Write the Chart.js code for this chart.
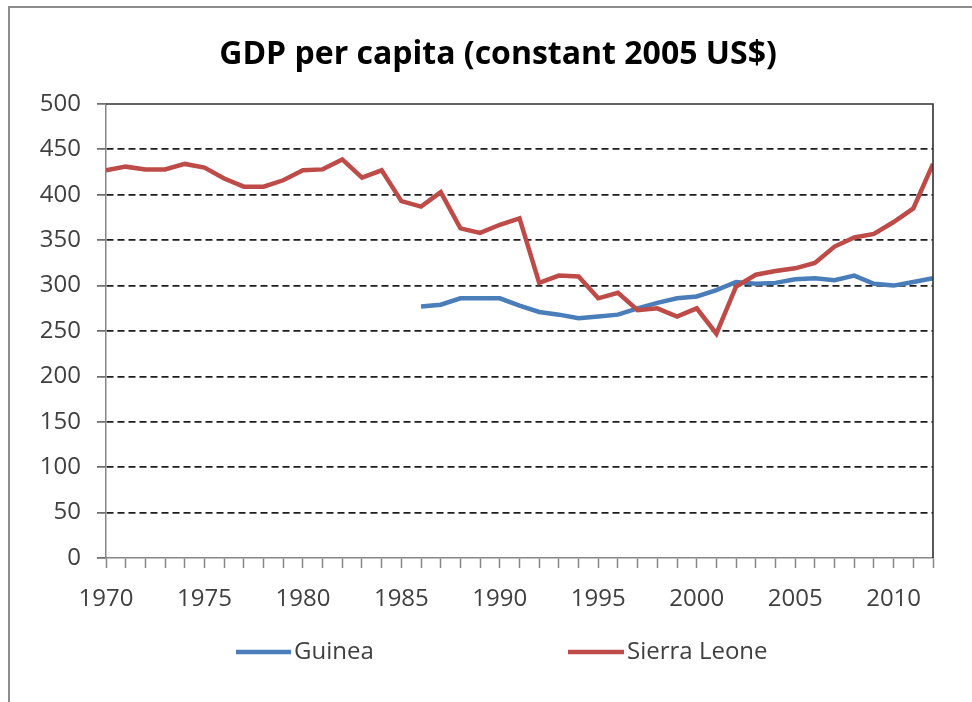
<!DOCTYPE html>
<html>
<head>
<meta charset="utf-8">
<script src="https://cdn.jsdelivr.net/npm/chart.js@4/dist/chart.umd.min.js"></script>
<style>
  body { margin: 0; background: #fff; }
  #wrap { width: 972px; height: 702px; }
</style>
</head>
<body>
<div id="wrap"><canvas id="mycanvas" width="972" height="702"></canvas></div>
<script>
// GDP per capita (constant 2005 US$)
var years = [1970,1971,1972,1973,1974,1975,1976,1977,1978,1979,
             1980,1981,1982,1983,1984,1985,1986,1987,1988,1989,
             1990,1991,1992,1993,1994,1995,1996,1997,1998,1999,
             2000,2001,2002,2003,2004,2005,2006,2007,2008,2009,
             2010,2011,2012];
var guinea = [null,null,null,null,null,null,null,null,null,null,
              null,null,null,null,null,null,277,279,286,286,
              286,278,271,268,264,266,268,275,281,286,
              288,295,304,302,303,307,308,306,311,302,
              300,304,308];
var sierraLeone = [427,431,428,428,434,430,418,409,409,416,
                   427,428,439,419,427,393,387,403,363,358,
                   367,374,303,311,310,286,292,273,275,266,
                   275,247,299,312,316,319,325,343,353,357,
                   370,385,434];
var seriesNames = ['Guinea', 'Sierra Leone'];
var seriesColors = ['#4A7EBB', '#BE4B48'];
var yTicks = [0,50,100,150,200,250,300,350,400,450,500];

function points(vals){
  var out = [];
  for (var i in years) out.push({x: years[i], y: vals[i]});
  return out;
}

var frame = {
  id: 'frame',
  afterLayout: function(chart){
    // title sits a little right of the canvas centre in the original
    if (chart.titleBlock) chart.titleBlock.left = 63;
  },
  beforeDraw: function(chart){
    var c = chart.ctx;
    c.save();
    c.fillStyle = '#fff';
    c.fillRect(0, 0, chart.width, chart.height);
    c.strokeStyle = '#8c8c8c';
    c.lineWidth = 2;
    c.beginPath();
    c.moveTo(9, chart.height);
    c.lineTo(9, 7);
    c.lineTo(chart.width, 7);
    c.stroke();
    c.restore();
  },
  afterDatasetsDraw: function(chart){
    var a = chart.chartArea, c = chart.ctx;
    c.save();
    c.strokeStyle = '#303030';
    c.lineWidth = 1.6;
    c.beginPath();
    c.moveTo(a.left, a.top);
    c.lineTo(a.right, a.top);
    c.lineTo(a.right, a.bottom);
    c.stroke();
    c.restore();
  },
  afterDraw: function(chart){
    // legend row under the axis
    var c = chart.ctx;
    var y = 652;
    var items = [{x: 236, len: 55}, {x: 568, len: 56}];
    c.save();
    c.font = '24px "Open Sans"';
    c.textBaseline = 'middle';
    c.textAlign = 'left';
    for (var i = 0; i < items.length; i++){
      c.strokeStyle = seriesColors[i];
      c.lineWidth = 4.5;
      c.beginPath();
      c.moveTo(items[i].x, y);
      c.lineTo(items[i].x + items[i].len, y);
      c.stroke();
      c.fillStyle = '#404040';
      c.fillText(seriesNames[i], items[i].x + items[i].len + 3, y);
    }
    c.restore();
  }
};

var chartdata = {
  datasets: [
    {
      label: seriesNames[0],
      data: points(guinea),
      borderColor: seriesColors[0],
      backgroundColor: seriesColors[0],
      borderWidth: 4.5,
      pointRadius: 0,
      tension: 0,
      spanGaps: false,
      order: 1
    },
    {
      label: seriesNames[1],
      data: points(sierraLeone),
      borderColor: seriesColors[1],
      backgroundColor: seriesColors[1],
      borderWidth: 4.5,
      pointRadius: 0,
      tension: 0,
      order: 0
    }
  ]
};

var lineChart = new Chart(document.getElementById('mycanvas'), {
  type: 'line',
  data: chartdata,
  plugins: [frame],
  options: {
    responsive: false,
    animation: false,
    layout: { padding: { left: 0, right: 39, top: 0, bottom: 88 } },
    plugins: {
      legend: { display: false },
      tooltip: { enabled: false },
      title: {
        display: true,
        text: 'GDP per capita (constant 2005 US$)',
        color: '#000',
        font: { family: 'Open Sans', size: 32, weight: 'bold' },
        padding: { top: 36, bottom: 29.6 }
      }
    },
    scales: {
      x: {
        type: 'linear',
        min: years[0],
        max: years[years.length - 1],
        afterFit: function(s){ s.height = 56; },
        afterBuildTicks: function(s){
          s.ticks = years.map(function(v){ return {value: v}; });
        },
        ticks: {
          autoSkip: false,
          maxRotation: 0,
          padding: 17,
          color: '#404040',
          font: { family: 'Open Sans', size: 24 },
          callback: function(v){ return v % 5 === 0 ? String(v) : ''; }
        },
        grid: {
          drawOnChartArea: false,
          tickLength: 10,
          tickColor: '#868686',
          tickWidth: 1.5
        },
        border: { color: '#868686', width: 1.5 }
      },
      y: {
        min: 0,
        max: 500,
        afterFit: function(s){ s.width = 106; },
        afterBuildTicks: function(s){
          s.ticks = yTicks.map(function(v){ return {value: v}; });
        },
        ticks: {
          padding: 16,
          color: '#404040',
          font: { family: 'Open Sans', size: 24 }
        },
        grid: {
          color: function(ctx){
            var v = ctx.tick ? ctx.tick.value : 0;
            return (v === 0 || v === 500) ? 'rgba(0,0,0,0)' : '#1e1e1e';
          },
          lineWidth: 1.8,
          tickLength: 9,
          tickColor: '#555',
          tickWidth: 1.5
        },
        border: { color: '#868686', width: 1.5, dash: [7, 4] }
      }
    }
  }
});
</script>
</body>
</html>
